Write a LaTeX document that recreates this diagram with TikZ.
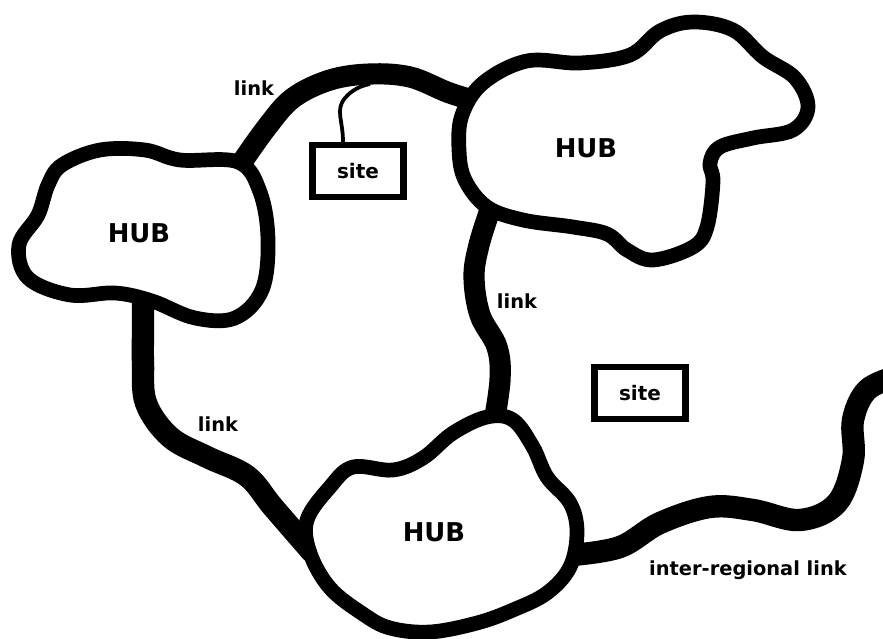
\documentclass[tikz,border=0pt]{standalone}
\usepackage{fontspec}
\newfontfamily\labfont{DejaVu Sans}[BoldFont={DejaVu Sans Bold}]
\begin{document}
\begin{tikzpicture}[x=0.85pt,y=-0.85pt,
  hub/.style={draw=black,fill=white,line width=12.5pt,line join=round},
  link/.style={draw=black,line width=18pt,line cap=round,line join=round},
  sitebox/.style={draw=black,fill=white,line width=5.5pt,minimum width=77pt,minimum height=44pt,inner sep=0pt,font=\labfont\bfseries\fontsize{17}{20}\selectfont},
  thin/.style={draw=black,line width=3.2pt},
  hublabel/.style={font=\labfont\bfseries\fontsize{22}{26}\selectfont,inner sep=0pt},
  linklabel/.style={font=\labfont\bfseries\fontsize{16.5}{19}\selectfont,inner sep=0pt}]
\useasboundingbox (0,0) rectangle (883,639);
% link end points
\coordinate (l1a) at (240,165);
\coordinate (l1b) at (472,100);
\coordinate (l2a) at (490,210);
\coordinate (l2b) at (493,428);
\coordinate (l3a) at (143,295);
\coordinate (l3b) at (312,552);
\coordinate (l4a) at (572,555);
\coordinate (l4b) at (895,377);
% links
\draw[link] plot[smooth,tension=0.6] coordinates {(l1a) (267,127) (293,98) (330,80) (370,74) (410,77) (447,92) (l1b)};
\draw[link] plot[smooth,tension=0.6] coordinates {(l2a) (479,245) (474,277) (480,315) (497,347) (500,380) (l2b)};
\draw[link,line width=19pt] plot[smooth,tension=0.6] coordinates {(l3a) (143,330) (143,363) (146,403) (170,437) (207,457) (247,476) (273,507) (l3b)};
\draw[link,line width=19pt] plot[smooth,tension=0.6] coordinates {(l4a) (620,547) (660,523) (710,507) (753,510) (800,520) (837,503) (853,460) (853,420) (867,390) (l4b)};
% hubs
\path[hub] plot[smooth cycle,tension=0.6] coordinates {(62,165) (100,150) (145,150) (180,160) (238,162) (260,192) (268,240) (262,290) (235,318) (195,318) (152,301) (115,293) (70,295) (28,278) (19,245) (38,215) (48,185)};
\path[hub] plot[smooth cycle,tension=0.6] coordinates {(462,115) (483,83) (527,61) (580,63) (630,55) (660,31) (693,22) (733,30) (763,57) (795,78) (808,107) (793,130) (753,138) (720,147) (710,163) (713,182) (707,227) (693,247) (653,260) (627,250) (607,234) (573,227) (523,220) (487,207) (465,180) (459,150)};
\path[hub] plot[smooth cycle,tension=0.6] coordinates {(307,520) (330,487) (353,467) (393,470) (423,458) (453,433) (487,417) (513,420) (533,447) (547,477) (570,503) (577,532) (570,567) (547,593) (513,610) (477,623) (430,632) (390,628) (363,614) (330,588) (310,553)};
\node[hublabel] (h1) at (139,233) {HUB};
\node[hublabel] (h2) at (586,148) {HUB};
\node[hublabel] (h3) at (434,532) {HUB};
% sites
\node[sitebox] (s1) at (358,171) {site};
\node[sitebox] (s2) at (640,393) {site};
\coordinate (t1) at (370,84);
\draw[thin] (s1.north -| 343,0) .. controls (343,120) and (335,110) .. (345,98) .. controls (352,90) and (360,86) .. (t1);
% labels
\node[linklabel] (k1) at (254,88) {link};
\node[linklabel] (k2) at (517,301) {link};
\node[linklabel] (k3) at (218,424) {link};
\node[linklabel] (k4) at (748,570) {inter-regional link};
\end{tikzpicture}
\end{document}
